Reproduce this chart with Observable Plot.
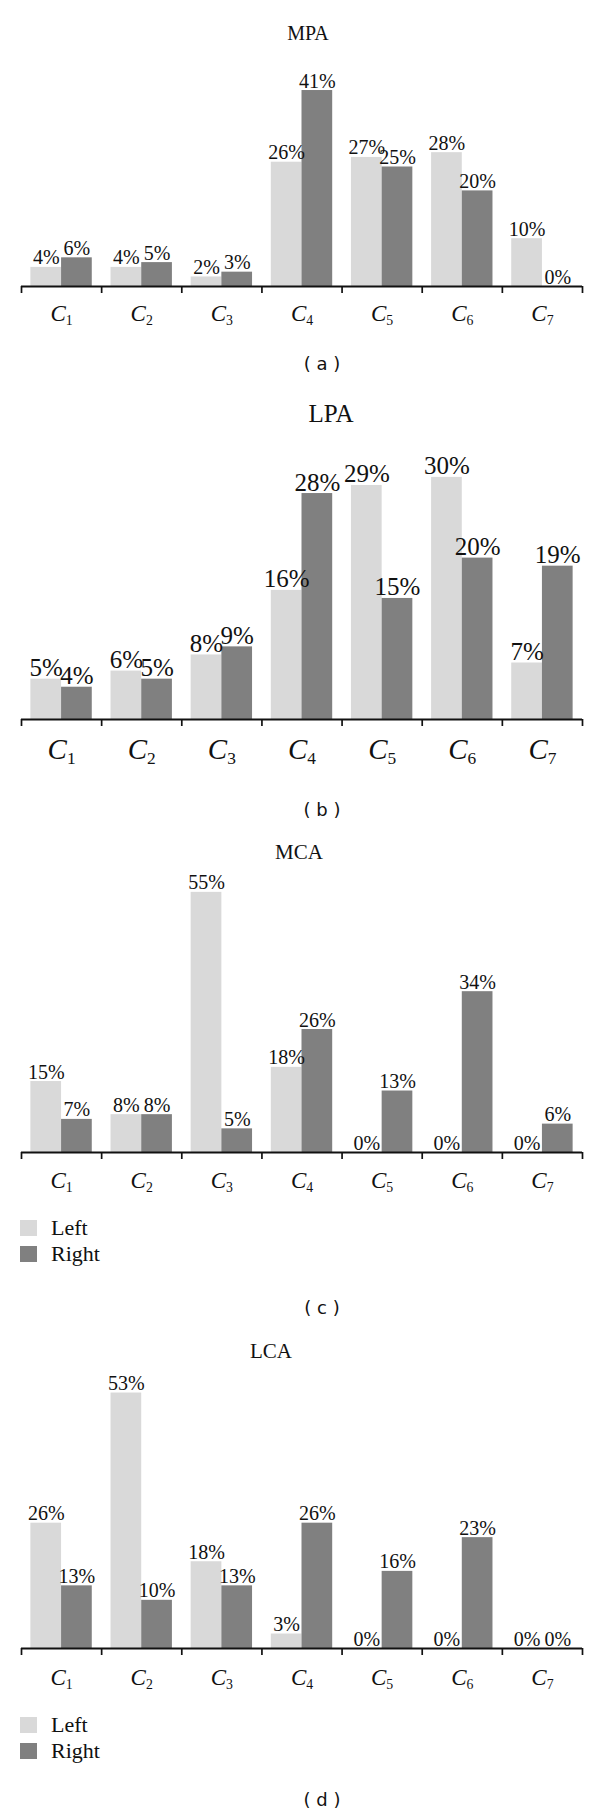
<!DOCTYPE html>
<html>
<head>
<meta charset="utf-8">
<script src="https://cdn.jsdelivr.net/npm/d3@7"></script>
<script src="https://cdn.jsdelivr.net/npm/@observablehq/plot@0.6"></script>
<style>
  html, body { margin: 0; padding: 0; background: #fff; }
  #root { position: relative; width: 600px; height: 1815px; overflow: hidden; background: #fff; }
  .abs { position: absolute; }
  .title { font-family: "Liberation Serif", "DejaVu Serif", serif; color: #111; text-align: center; white-space: nowrap; }
  .caption { font-family: "DejaVu Sans", "Liberation Sans", sans-serif; color: #111; text-align: center; white-space: pre; }
  .legend { font-family: "Liberation Serif", serif; font-size: 22px; color: #111; }
  .legend .row { display: flex; align-items: center; height: 26px; }
  .legend .sw { width: 17px; height: 16px; margin-right: 14px; }
</style>
</head>
<body>
<div id="root"></div>
<script>
// ---------- data ----------
const categories = ["C1", "C2", "C3", "C4", "C5", "C6", "C7"];
const sides = ["Left", "Right"];
const mpaLeft  = [4, 4, 2, 26, 27, 28, 10];
const mpaRight = [6, 5, 3, 41, 25, 20, 0];
const lpaLeft  = [5, 6, 8, 16, 29, 30, 7];
const lpaRight = [4, 5, 9, 28, 15, 20, 19];
const mcaLeft  = [15, 8, 55, 18, 0, 0, 0];
const mcaRight = [7, 8, 5, 26, 13, 34, 6];
const lcaLeft  = [26, 53, 18, 3, 0, 0, 0];
const lcaRight = [13, 10, 13, 26, 16, 23, 0];
const titles = ["MPA", "LPA", "MCA", "LCA"];
const captions = ["( a )", "( b )", "( c )", "( d )"];

// ---------- layout / style ----------
const colors = ["#d9d9d9", "#808080"];
const panels = [
  {left: mpaLeft, right: mpaRight, titleY: 33,   titleX: 308, titleSize: 20, svgTop: 60,   svgH: 270, base: 286,  pxPer: 4.78, labelSize: 20, catSize: 23, catDy: 27, capY: 364,  legendY: null},
  {left: lpaLeft, right: lpaRight, titleY: 414,  titleX: 331, titleSize: 25, svgTop: 440,  svgH: 340, base: 719,  pxPer: 8.07, labelSize: 25, catSize: 29, catDy: 30, capY: 810,  legendY: null},
  {left: mcaLeft, right: mcaRight, titleY: 852,  titleX: 299, titleSize: 21, svgTop: 862,  svgH: 330, base: 1152, pxPer: 4.73, labelSize: 20, catSize: 23, catDy: 28, capY: 1308, legendY: 1215},
  {left: lcaLeft, right: lcaRight, titleY: 1351, titleX: 271, titleSize: 21, svgTop: 1362, svgH: 330, base: 1648, pxPer: 4.82, labelSize: 20, catSize: 23, catDy: 29, capY: 1800, legendY: 1712}
];
const pad = 0.117;
const root = document.getElementById("root");

panels.forEach((p, k) => {
  const data = [];
  categories.forEach((c, i) => {
    data.push({cat: c, i, side: sides[0], value: p.left[i]});
    data.push({cat: c, i, side: sides[1], value: p.right[i]});
  });
  const x1 = d => d.i + (d.side === "Left" ? pad : 0.5);
  const x2 = d => d.i + (d.side === "Left" ? 0.5 : 1 - pad);
  const baseInSvg = p.base - p.svgTop;
  const marginBottom = p.svgH - baseInSvg;
  const yMax = baseInSvg / p.pxPer;

  const chart = Plot.plot({
    width: 600,
    height: p.svgH,
    marginLeft: 21,
    marginRight: 18,
    marginTop: 0,
    marginBottom,
    style: {fontFamily: "Liberation Serif, DejaVu Serif, serif", background: "transparent", color: "#111", overflow: "visible"},
    x: {domain: [0, categories.length]},
    y: {domain: [0, yMax], axis: null},
    color: {domain: sides, range: colors},
    marks: [
      Plot.rectY(data, {x1, x2, y: "value", fill: "side"}),
      Plot.text(data, {
        x: d => (x1(d) + x2(d)) / 2, y: "value", text: d => d.value + "%",
        lineAnchor: "bottom", dy: -3, fontSize: p.labelSize, fill: "#111"
      }),
      Plot.ruleY([0], {strokeWidth: 2, stroke: "#111"}),
      Plot.axisX(d3.range(categories.length + 1), {tickSize: 7, tickFormat: () => "", strokeWidth: 1.7, stroke: "#111", label: null}),
      Plot.text(categories, {
        x: (d, i) => i + 0.5, y: () => 0, text: d => d,
        dy: p.catDy, lineAnchor: "middle", fontSize: p.catSize, fill: "#111"
      })
    ]
  });

  // subscript the category labels
  chart.querySelectorAll("text").forEach(t => {
    const m = /^C(\d)$/.exec(t.textContent);
    if (!m) return;
    t.textContent = "";
    const ns = "http://www.w3.org/2000/svg";
    const a = document.createElementNS(ns, "tspan");
    a.setAttribute("font-style", "italic");
    a.textContent = "C";
    const b = document.createElementNS(ns, "tspan");
    b.setAttribute("font-size", "0.6em");
    b.setAttribute("dy", "0.32em");
    b.textContent = m[1];
    t.appendChild(a);
    t.appendChild(b);
  });

  chart.style.position = "absolute";
  chart.style.left = "0px";
  chart.style.top = p.svgTop + "px";
  root.appendChild(chart);

  const title = document.createElement("div");
  title.className = "abs title";
  title.textContent = titles[k];
  title.style.fontSize = p.titleSize + "px";
  title.style.lineHeight = "30px";
  title.style.width = "200px";
  title.style.left = (p.titleX - 100) + "px";
  title.style.top = (p.titleY - 15) + "px";
  root.appendChild(title);

  const cap = document.createElement("div");
  cap.className = "abs caption";
  cap.textContent = captions[k];
  cap.style.fontSize = "18px";
  cap.style.lineHeight = "24px";
  cap.style.width = "100px";
  cap.style.left = (322 - 50) + "px";
  cap.style.top = (p.capY - 12) + "px";
  root.appendChild(cap);

  if (p.legendY !== null) {
    const lg = document.createElement("div");
    lg.className = "abs legend";
    lg.style.left = "20px";
    lg.style.top = p.legendY + "px";
    sides.forEach((s, j) => {
      const row = document.createElement("div");
      row.className = "row";
      const sw = document.createElement("div");
      sw.className = "sw";
      sw.style.background = colors[j];
      const lab = document.createElement("span");
      lab.textContent = s;
      row.appendChild(sw);
      row.appendChild(lab);
      lg.appendChild(row);
    });
    root.appendChild(lg);
  }
});
</script>
</body>
</html>
